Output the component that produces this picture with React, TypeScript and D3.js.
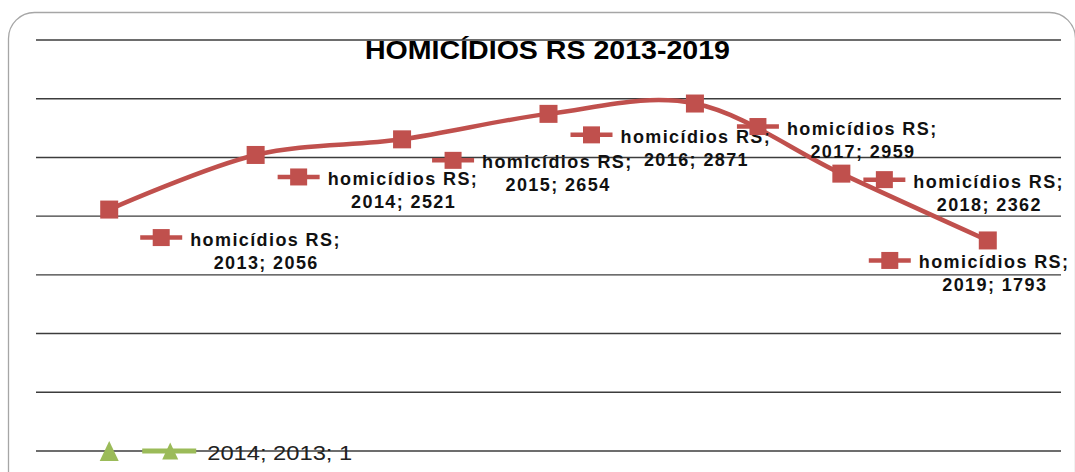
import React from "react";
import * as d3 from "d3";

const title = "HOMICÍDIOS RS 2013-2019";
const years = ["2013", "2014", "2015", "2016", "2017", "2018", "2019"];
const seriesName = "homicídios RS";
const homicides = [2056, 2521, 2654, 2871, 2959, 2362, 1793];
const yTicks = [0, 500, 1000, 1500, 2000, 2500, 3000, 3500];
// stray second series from the source workbook
const series2Name = "2014";
const series2Category = "2013";
const series2Value = 1;

// layout: label key offsets from the data point (manually placed labels)
const labelOffsets: [number, number][] = [
  [31, 28],
  [22, 22],
  [30, 21],
  [22, 21],
  [42, 23],
  [22, 6],
  [-119, 20],
];

const W = 1075;
const H = 472;
const RED = "#C0504D";
const GREEN = "#9BBB59";

export default function App() {
  const x = d3.scalePoint<string>().domain(years).range([36, 1061]).padding(0.5);
  const y = d3.scaleLinear().domain([0, 3500]).range([451, 40]);

  const pts: [number, number][] = homicides.map((v, i) => [x(years[i])!, y(v)]);
  const line = d3.line().curve(d3.curveCardinal.tension(0))(pts) || "";

  const sq = 18;
  const keySq = 17;
  const fontLab = "'Liberation Sans', Arial, sans-serif";
  const L1 = 152; // approx width of first line

  const p2x = x(series2Category)!;
  const p2y = y(series2Value);

  const tri = (cx: number, cy: number, w: number, h: number) =>
    `M${cx},${cy - h / 2}L${cx + w / 2},${cy + h / 2}L${cx - w / 2},${cy + h / 2}Z`;

  return (
    <svg
      width={W}
      height={H}
      style={{ position: "absolute", left: 0, top: 0, background: "#fff" }}
    >
      <rect
        x={8.5}
        y={12.5}
        width={1067}
        height={500}
        rx={26}
        ry={26}
        fill="#fff"
        stroke="#a6a6a6"
        strokeWidth={1.3}
      />
      {yTicks.map((t) => (
        <line
          key={t}
          x1={36}
          x2={1061}
          y1={y(t)}
          y2={y(t)}
          stroke="#3c3c3c"
          strokeWidth={1.4}
        />
      ))}
      <text
        x={547.5}
        y={59}
        textAnchor="middle"
        fontFamily={fontLab}
        fontWeight="bold"
        fontSize={26}
        textLength={365}
        lengthAdjust="spacingAndGlyphs"
        fill="#000"
      >
        {title}
      </text>

      <path d={line} fill="none" stroke={RED} strokeWidth={4.5} />
      {pts.map(([px, py], i) => (
        <rect key={i} x={px - sq / 2} y={py - sq / 2} width={sq} height={sq} fill={RED} />
      ))}

      {pts.map(([px, py], i) => {
        const kx = px + labelOffsets[i][0];
        const ky = py + labelOffsets[i][1];
        const tx = kx + 50;
        return (
          <g key={"l" + i}>
            <line x1={kx} x2={kx + 42} y1={ky} y2={ky} stroke={RED} strokeWidth={4.5} />
            <rect
              x={kx + 21 - keySq / 2}
              y={ky - keySq / 2}
              width={keySq}
              height={keySq}
              fill={RED}
            />
            <text
              x={tx}
              y={ky + 8}
              fontFamily={fontLab}
              fontWeight="bold"
              fontSize={18}
              letterSpacing={1.4}
              fill="#111"
            >
              {seriesName + ";"}
            </text>
            <text
              x={tx + L1 / 2}
              y={ky + 31}
              textAnchor="middle"
              fontFamily={fontLab}
              fontWeight="bold"
              fontSize={18}
              letterSpacing={1.4}
              fill="#111"
            >
              {`${years[i]}; ${homicides[i]}`}
            </text>
          </g>
        );
      })}

      <path d={tri(p2x, p2y, 19, 20)} fill={GREEN} />
      <g>
        <line x1={p2x + 33} x2={p2x + 87} y1={p2y} y2={p2y} stroke={GREEN} strokeWidth={5} />
        <path d={tri(p2x + 61, p2y, 16, 17)} fill={GREEN} />
        <text
          x={p2x + 98}
          y={p2y + 9}
          fontFamily={fontLab}
          fontSize={21}
          textLength={145}
          lengthAdjust="spacingAndGlyphs"
          fill="#222"
        >
          {`${series2Name}; ${series2Category}; ${series2Value}`}
        </text>
      </g>
    </svg>
  );
}
